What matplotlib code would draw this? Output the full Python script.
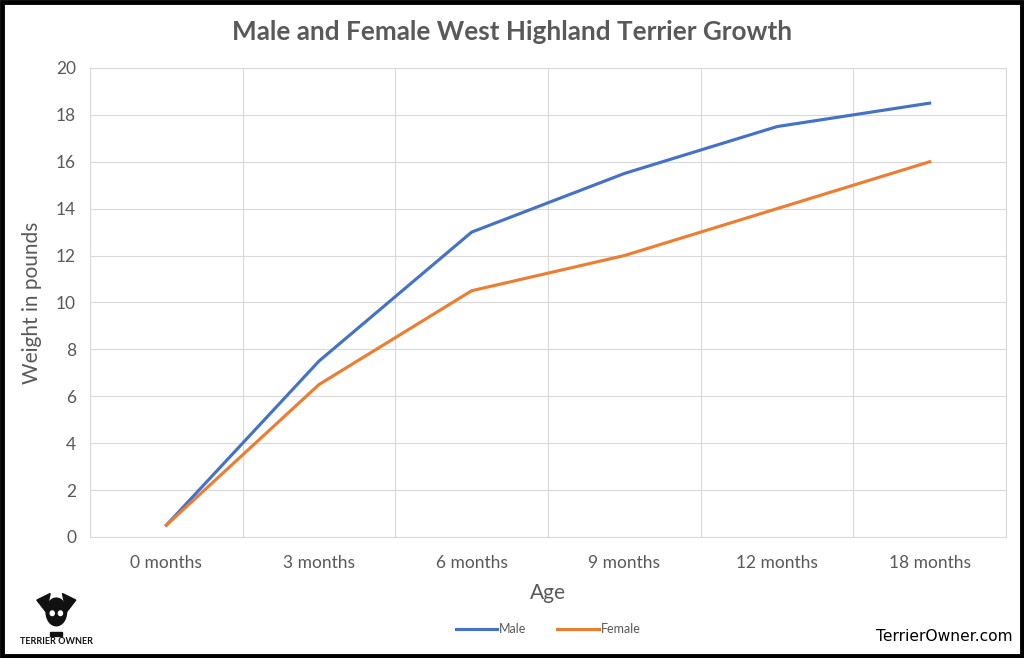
import matplotlib.pyplot as plt
from matplotlib.patches import Rectangle, Ellipse, Polygon

ages = ["0 months", "3 months", "6 months", "9 months", "12 months", "18 months"]
male = [0.5, 7.5, 13, 15.5, 17.5, 18.5]
female = [0.5, 6.5, 10.5, 12, 14, 16]

plt.rcParams['font.family'] = ['Lato', 'DejaVu Sans']
grey = '#595959'

fig = plt.figure(figsize=(10.24, 6.58), dpi=100)
ax = fig.add_axes([0.0879, 0.184, 0.8945, 0.7127])

x = range(len(ages))
ax.plot(x, male, color='#4472C4', linewidth=2.25, label='Male')
ax.plot(x, female, color='#ED7D31', linewidth=2.25, label='Female')

ax.set_xlim(-0.5, len(ages) - 0.5)
ax.set_ylim(0, 20)
ax.set_yticks(range(0, 21, 2))
ax.set_xticks(list(x))
ax.set_xticklabels(ages)
ax.set_xticks([i + 0.5 for i in range(-1, len(ages))], minor=True)
ax.grid(True, which='minor', axis='x', color='#d9d9d9', linewidth=0.8)
ax.grid(True, which='major', axis='y', color='#d9d9d9', linewidth=0.8)
ax.tick_params(which='both', length=0)
ax.tick_params(labelsize=12.5, colors=grey)
ax.tick_params(axis='y', pad=10)
ax.tick_params(axis='x', pad=13)
for s in ax.spines.values():
    s.set_color('#d9d9d9')
    s.set_linewidth(0.8)
ax.set_axisbelow(True)

ax.set_xlabel('Age', fontsize=15, color=grey, labelpad=9)
ax.set_ylabel('Weight in pounds', fontsize=15, color=grey, labelpad=10)
fig.text(0.5, 0.952, 'Male and Female West Highland Terrier Growth', ha='center', va='center',
         fontsize=18.8, fontweight='bold', color=grey)

ax.legend(loc='upper center', bbox_to_anchor=(0.5, -0.16), ncol=2, frameon=False,
          fontsize=9, labelcolor=grey, handlelength=3.3, handletextpad=0.15, columnspacing=2.5)

fig.text(0.989, 0.033, 'TerrierOwner.com', ha='right', va='center', fontsize=11.2,
         family='DejaVu Sans', color='black')

# logo
fig.text(0.055, 0.025, 'TERRIER OWNER', ha='center', va='center', fontsize=6.5,
         fontweight='bold', color='#111111')
lx, ly = 0.055, 0.07
fig.patches.append(Ellipse((lx, ly), 0.02, 0.042, transform=fig.transFigure, color='#111111'))
fig.patches.append(Polygon([(lx - 0.019, ly + 0.018), (lx - 0.006, ly + 0.028), (lx - 0.01, ly)],
                           transform=fig.transFigure, color='#111111'))
fig.patches.append(Polygon([(lx + 0.019, ly + 0.018), (lx + 0.006, ly + 0.028), (lx + 0.01, ly)],
                           transform=fig.transFigure, color='#111111'))
fig.patches.append(Ellipse((lx - 0.004, ly - 0.002), 0.004, 0.007, transform=fig.transFigure, color='white'))
fig.patches.append(Ellipse((lx + 0.004, ly - 0.002), 0.004, 0.007, transform=fig.transFigure, color='white'))
fig.patches.append(Rectangle((lx - 0.006, ly - 0.036), 0.012, 0.005, transform=fig.transFigure, color='#111111'))

fig.patches.append(Rectangle((0.002, 0.003), 0.996, 0.994, transform=fig.transFigure,
                             fill=False, edgecolor='black', linewidth=3.5))

fig.savefig('out.png', dpi=100, facecolor='white')
